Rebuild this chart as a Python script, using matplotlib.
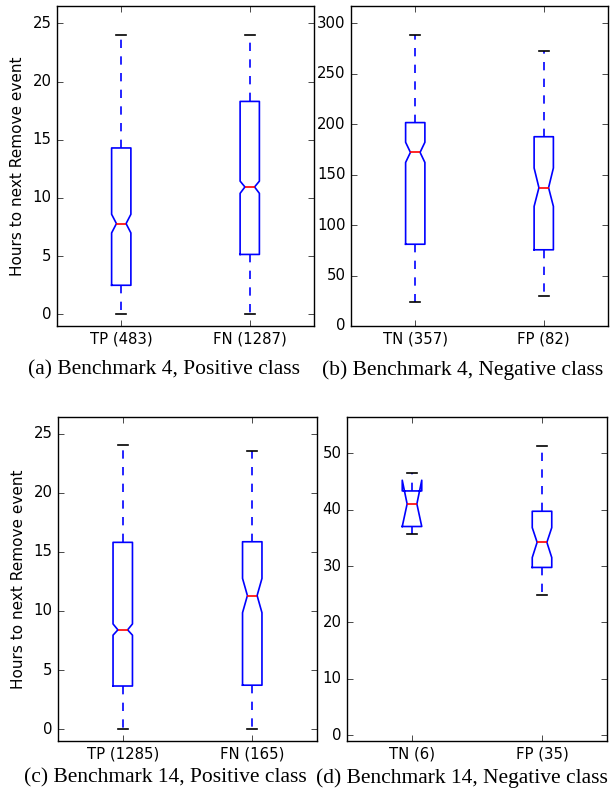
import matplotlib
matplotlib.use("Agg")
import matplotlib.pyplot as plt

plt.style.use("classic")
plt.rcParams["figure.facecolor"] = "white"
plt.rcParams["savefig.facecolor"] = "white"
plt.rcParams["font.family"] = "DejaVu Sans"
plt.rcParams["font.size"] = 10

# box statistics (hours)
labels_a = ["TP (483)", "FN (1287)"]
med_a = [7.8, 10.95]
q1_a = [2.5, 5.15]
q3_a = [14.3, 18.3]
lo_a = [0.0, 0.0]
hi_a = [24.0, 24.0]
cilo_a = [7.0, 10.4]
cihi_a = [8.6, 11.45]

labels_b = ["TN (357)", "FP (82)"]
med_b = [172, 137]
q1_b = [81, 75.5]
q3_b = [201.5, 187.5]
lo_b = [24, 29.5]
hi_b = [288.5, 272.5]
cilo_b = [162, 118.5]
cihi_b = [182, 156.5]

labels_c = ["TP (1285)", "FN (165)"]
med_c = [8.4, 11.3]
q1_c = [3.65, 3.72]
q3_c = [15.8, 15.85]
lo_c = [0.0, 0.0]
hi_c = [24.0, 23.5]
cilo_c = [7.95, 9.85]
cihi_c = [8.9, 12.75]

labels_d = ["TN (6)", "FP (35)"]
med_d = [41.0, 34.2]
q1_d = [37.0, 29.75]
q3_d = [43.3, 39.7]
lo_d = [35.6, 24.9]
hi_d = [46.5, 51.3]
cilo_d = [37.0, 31.5]
cihi_d = [45.2, 36.8]

captions = ["(a) Benchmark 4, Positive class", "(b) Benchmark 4, Negative class",
            "(c) Benchmark 14, Positive class", "(d) Benchmark 14, Negative class"]


def make_stats(labels, med, q1, q3, lo, hi, cilo, cihi):
    stats = []
    for i in range(len(labels)):
        stats.append(dict(label=labels[i], med=med[i], q1=q1[i], q3=q3[i],
                          whislo=lo[i], whishi=hi[i], cilo=cilo[i], cihi=cihi[i],
                          fliers=[]))
    return stats


W, H = 616, 798
fig = plt.figure(figsize=(W / 100, H / 100), dpi=100)

# axes boxes in pixels: left, top, right, bottom
boxes = [(57, 6, 314, 326), (351, 6, 608, 326),
         (58, 417, 317, 741), (347, 417, 607, 741)]
ylims = [(-1, 26.5), (0, 317), (-1, 26.4), (-1, 56.4)]
yticks = [range(0, 26, 5), range(0, 301, 50), range(0, 26, 5), range(0, 51, 10)]
data = [(labels_a, med_a, q1_a, q3_a, lo_a, hi_a, cilo_a, cihi_a),
        (labels_b, med_b, q1_b, q3_b, lo_b, hi_b, cilo_b, cihi_b),
        (labels_c, med_c, q1_c, q3_c, lo_c, hi_c, cilo_c, cihi_c),
        (labels_d, med_d, q1_d, q3_d, lo_d, hi_d, cilo_d, cihi_d)]
cap_x = [164, 463, 165, 462]
cap_y = [370, 370, 778, 778]

for k in range(4):
    l, t, r, b = boxes[k]
    ax = fig.add_axes([l / W, 1 - b / H, (r - l) / W, (b - t) / H])
    ax.bxp(make_stats(*data[k]), shownotches=True, widths=0.15,
           boxprops=dict(color="b", linewidth=1.2),
           whiskerprops=dict(color="b", linestyle="--", linewidth=1.2),
           capprops=dict(color="k", linewidth=1.2), medianprops=dict(color="r", linewidth=1.2))
    ax.set_xlim(0.5, 2.5)
    ax.set_ylim(*ylims[k])
    ax.set_yticks(list(yticks[k]))
    ax.tick_params(direction="in", top=True, right=True, labelsize=10.7)
    if k % 2 == 0:
        ax.set_ylabel("Hours to next Remove event", fontsize=11)
    fig.text(cap_x[k] / W, 1 - cap_y[k] / H, captions[k],
             family="Liberation Serif", fontsize=15.5, ha="center", va="center")

fig.savefig("out.png", dpi=100)
